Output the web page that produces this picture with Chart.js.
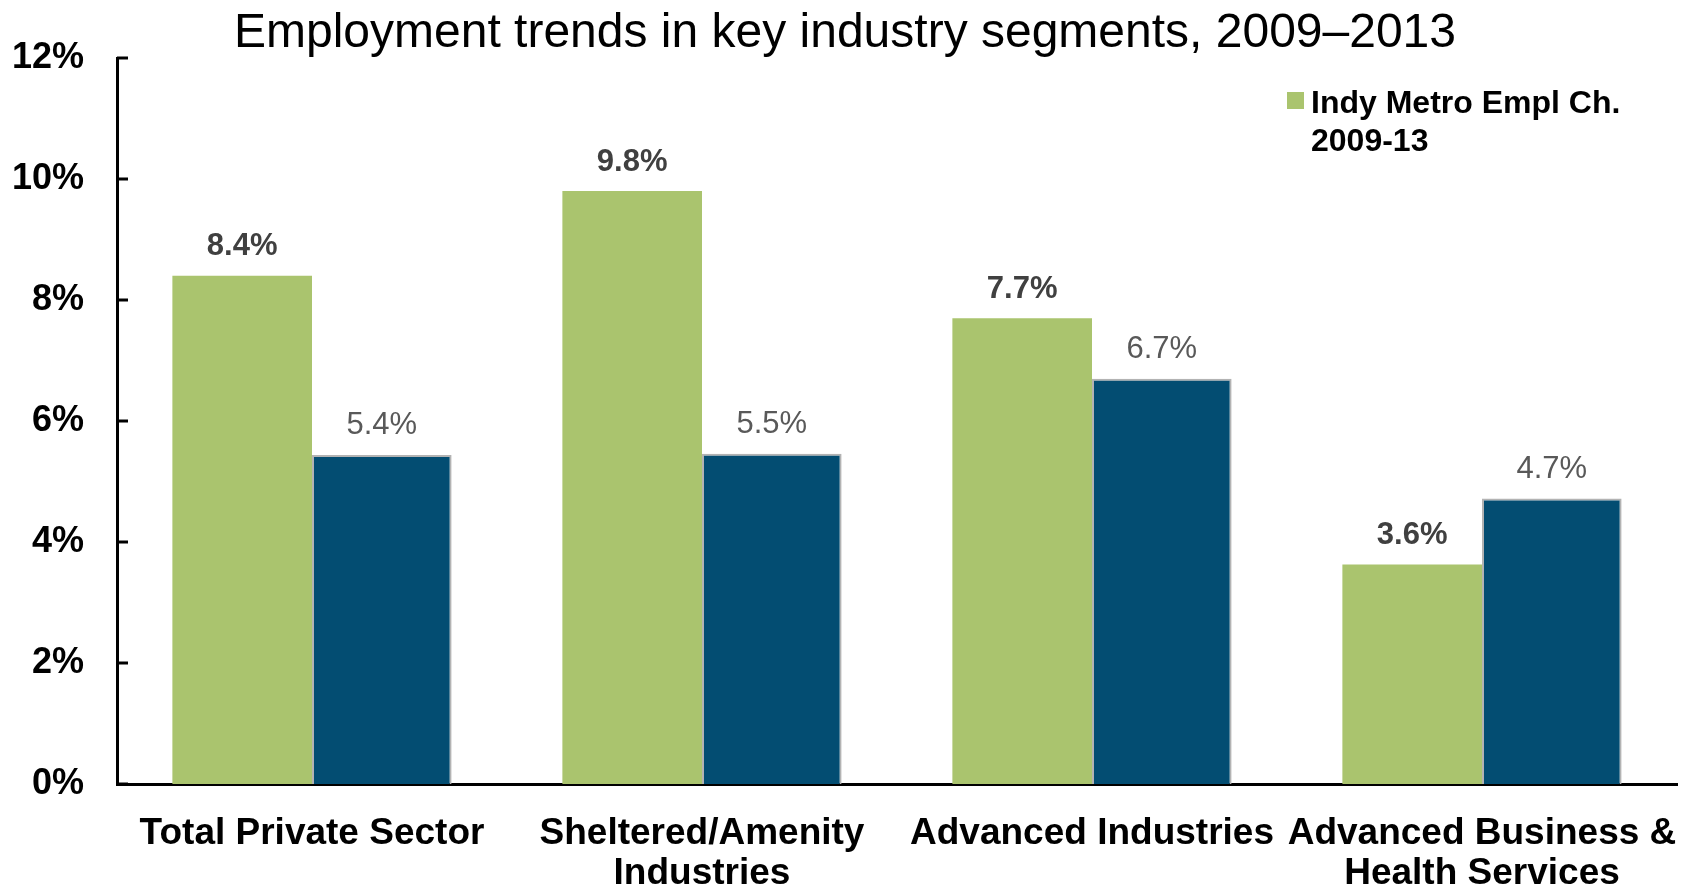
<!DOCTYPE html>
<html>
<head>
<meta charset="utf-8">
<script src="https://cdn.jsdelivr.net/npm/chart.js"></script>
<style>
  html, body { margin: 0; padding: 0; background: #ffffff; }
  #wrap { width: 1694px; height: 890px; }
</style>
</head>
<body>
<div id="wrap"><canvas id="myChart" width="1694" height="890"></canvas></div>
<script>
// data
const categories = [
    'Total Private Sector',
    ['Sheltered/Amenity', 'Industries'],
    'Advanced Industries',
    ['Advanced Business &', 'Health Services'],
];
const indyValues = [8.4, 9.8, 7.7, 3.63];
const compareValues = [5.44, 5.46, 6.7, 4.72];
const legendLines = ['Indy Metro Empl Ch.', '2009-13'];
const yTicks = [0, 2, 4, 6, 8, 10, 12];

const FONT = "'Liberation Sans', Arial, sans-serif";
const GREEN = '#aac46e';
const BLUE = '#034d72';

// value labels above each bar
const barLabels = {
    id: 'barLabels',
    afterDatasetsDraw(chart) {
        const ctx = chart.ctx;
        ctx.save();
        ctx.textAlign = 'center';
        ctx.textBaseline = 'middle';
        chart.data.datasets.forEach((ds, di) => {
            const meta = chart.getDatasetMeta(di);
            ctx.font = (di === 0 ? 'bold ' : '') + '31px ' + FONT;
            ctx.fillStyle = di === 0 ? '#404040' : '#595959';
            meta.data.forEach((bar, i) => {
                ctx.fillText(ds.data[i].toFixed(1) + '%', bar.x, bar.y - 29);
            });
        });
        ctx.restore();
    }
};

// short tick marks pointing into the plot, plus the two-line legend
const extras = {
    id: 'extras',
    afterDraw(chart) {
        const ctx = chart.ctx;
        const area = chart.chartArea;
        const y = chart.scales.y;
        ctx.save();
        ctx.strokeStyle = '#000000';
        ctx.lineWidth = 3;
        yTicks.forEach((v) => {
            const py = y.getPixelForValue(v);
            ctx.beginPath();
            ctx.moveTo(area.left, py);
            ctx.lineTo(area.left + 11, py);
            ctx.stroke();
        });

        // legend
        const lx = area.left + 1170;
        const ly = 92;
        ctx.fillStyle = GREEN;
        ctx.fillRect(lx, ly, 17, 17);
        ctx.fillStyle = '#000000';
        ctx.font = 'bold 32px ' + FONT;
        ctx.textAlign = 'left';
        ctx.textBaseline = 'middle';
        legendLines.forEach((line, i) => {
            ctx.fillText(line, lx + 24, ly + 12 + i * 38);
        });
        ctx.restore();
    }
};

const ctx = document.getElementById('myChart').getContext('2d');
new Chart(ctx, {
    type: 'bar',
    data: {
        labels: categories,
        datasets: [
            {
                label: legendLines.join(' '),
                data: indyValues,
                backgroundColor: GREEN,
                borderWidth: 0,
            },
            {
                label: 'Comparison',
                data: compareValues,
                backgroundColor: BLUE,
                borderColor: '#b3b3b3',
                borderWidth: 2,
                borderSkipped: 'bottom',
            },
        ],
    },
    options: {
        responsive: false,
        animation: false,
        layout: { padding: { left: 13, right: 17, top: 0, bottom: 0 } },
        datasets: {
            bar: { categoryPercentage: 0.716, barPercentage: 1.0 },
        },
        plugins: {
            legend: { display: false },
            tooltip: { enabled: false },
            title: {
                display: true,
                text: 'Employment trends in key industry segments, 2009\u20132013',
                color: '#000000',
                font: { family: FONT, size: 48, weight: 'normal', lineHeight: 1.0 },
                padding: { top: 10, bottom: 0 },
            },
        },
        scales: {
            x: {
                grid: { display: false, drawTicks: false },
                border: { display: true, color: '#000000', width: 3 },
                ticks: {
                    color: '#000000',
                    padding: 29,
                    maxRotation: 0,
                    autoSkip: false,
                    font: { family: FONT, size: 37, weight: 'bold', lineHeight: 1.1 },
                },
                afterFit: (scale) => {
                    scale.height = 106;
                    scale.paddingLeft = 0;
                    scale.paddingRight = 0;
                },
            },
            y: {
                min: 0,
                max: 12,
                grid: { display: false, drawTicks: false },
                border: { display: true, color: '#000000', width: 3 },
                ticks: {
                    stepSize: 2,
                    color: '#000000',
                    padding: 33,
                    font: { family: FONT, size: 36, weight: 'bold' },
                    callback: (v) => v + '%',
                },
                afterFit: (scale) => {
                    scale.width = 104;
                },
            },
        },
    },
    plugins: [barLabels, extras],
});
</script>
</body>
</html>
